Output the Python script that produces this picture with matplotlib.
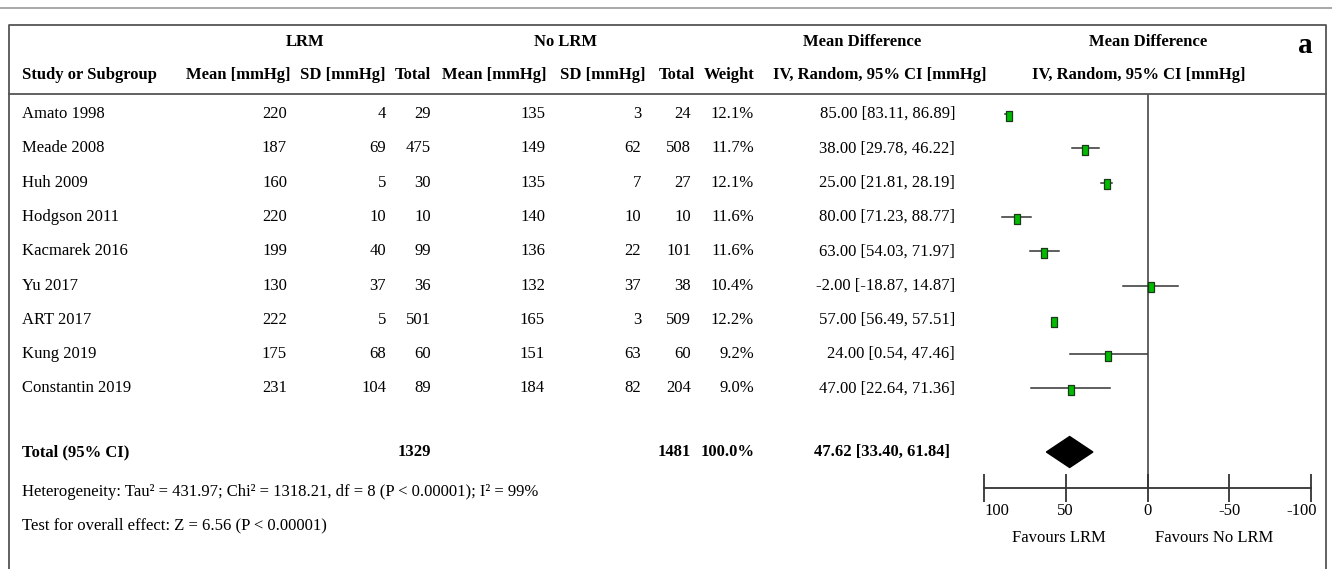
import matplotlib
matplotlib.use("Agg")
import matplotlib.pyplot as plt
from matplotlib.patches import Polygon
from matplotlib.path import Path
from matplotlib.transforms import ScaledTranslation

plt.rcParams['font.family'] = ['Liberation Serif', 'DejaVu Serif']

# ---------------- data ----------------
studies = ["Amato 1998", "Meade 2008", "Huh 2009", "Hodgson 2011", "Kacmarek 2016",
           "Yu 2017", "ART 2017", "Kung 2019", "Constantin 2019"]
lrm_mean = [220, 187, 160, 220, 199, 130, 222, 175, 231]
lrm_sd = [4, 69, 5, 10, 40, 37, 5, 68, 104]
lrm_n = [29, 475, 30, 10, 99, 36, 501, 60, 89]
ctl_mean = [135, 149, 135, 140, 136, 132, 165, 151, 184]
ctl_sd = [3, 62, 7, 10, 22, 37, 3, 63, 82]
ctl_n = [24, 508, 27, 10, 101, 38, 509, 60, 204]
weight = [12.1, 11.7, 12.1, 11.6, 11.6, 10.4, 12.2, 9.2, 9.0]
md = [85.00, 38.00, 25.00, 80.00, 63.00, -2.00, 57.00, 24.00, 47.00]
ci_lo = [83.11, 29.78, 21.81, 71.23, 54.03, -18.87, 56.49, 0.54, 22.64]
ci_hi = [86.89, 46.22, 28.19, 88.77, 71.97, 14.87, 57.51, 47.46, 71.36]
total_lrm_n = 1329
total_ctl_n = 1481
total_weight = 100.0
total_md = 47.62
total_lo = 33.40
total_hi = 61.84
x_ticks = [100, 50, 0, -50, -100]
heterogeneity = "Heterogeneity: Tau\u00b2 = 431.97; Chi\u00b2 = 1318.21, df = 8 (P < 0.00001); I\u00b2 = 99%"
overall = "Test for overall effect: Z = 6.56 (P < 0.00001)"

# ---------------- layout ----------------
W, H = 1332, 569
fig = plt.figure(figsize=(W / 100, H / 100), dpi=100)
bg = fig.add_axes([0, 0, 1, 1])
bg.set_xlim(0, W)
bg.set_ylim(H, 0)
bg.axis('off')

FS = 12
line_col = '#555555'

# frame
bg.plot([0, W], [8, 8], color='#999999', lw=1.2)
bg.plot([9, 9, W - 6, W - 6], [H + 5, 25, 25, H + 5], color=line_col, lw=1.3)
bg.plot([9, W - 6], [94, 94], color=line_col, lw=1.3)

# header
hy1, hy2 = 42, 75
bold = dict(fontsize=FS, fontweight='bold', va='center')
bg.text(305, hy1, "LRM", ha='center', **bold)
bg.text(566, hy1, "No LRM", ha='center', **bold)
bg.text(862, hy1, "Mean Difference", ha='center', **bold)
bg.text(1148, hy1, "Mean Difference", ha='center', **bold)
bg.text(1305, 45, "a", ha='center', fontsize=21, fontweight='bold', va='center')

bg.text(22, hy2, "Study or Subgroup", ha='left', **bold)
col_right = [290, 386, 431, 546, 646, 695, 755]
col_hdr = ["Mean [mmHg]", "SD [mmHg]", "Total", "Mean [mmHg]", "SD [mmHg]", "Total", "Weight"]
for xr, t in zip(col_right, col_hdr):
    bg.text(xr, hy2, t, ha='right', **bold)
bg.text(880, hy2, "IV, Random, 95% CI [mmHg]", ha='center', **bold)
bg.text(1139, hy2, "IV, Random, 95% CI [mmHg]", ha='center', **bold)

# rows
row0, step = 114, 34.3
num_right = [287, 386, 431, 545, 641, 691, 754]
ci_right = 955
norm = dict(fontsize=FS, va='center')
for i, s in enumerate(studies):
    y = row0 + i * step
    bg.text(22, y, s, ha='left', **norm)
    vals = [lrm_mean[i], lrm_sd[i], lrm_n[i], ctl_mean[i], ctl_sd[i], ctl_n[i]]
    for xr, v in zip(num_right[:6], vals):
        bg.text(xr, y, f"{v}", ha='right', **norm)
    bg.text(num_right[6], y, f"{weight[i]:.1f}%", ha='right', **norm)
    bg.text(ci_right, y, f"{md[i]:.2f} [{ci_lo[i]:.2f}, {ci_hi[i]:.2f}]", ha='right', **norm)

ty = 452
bg.text(22, ty, "Total (95% CI)", ha='left', **bold)
bg.text(num_right[2], ty, f"{total_lrm_n}", ha='right', **bold)
bg.text(num_right[5], ty, f"{total_ctl_n}", ha='right', **bold)
bg.text(num_right[6] + 1, ty, f"{total_weight:.1f}%", ha='right', **bold)
bg.text(950, ty, f"{total_md:.2f} [{total_lo:.2f}, {total_hi:.2f}]", ha='right', **bold)

bg.text(22, 492, heterogeneity, ha='left', **norm)
bg.text(22, 525, overall, ha='left', **norm)

# ---------------- forest plot ----------------
x0, x1 = 984, 1311
ytop, ybot = 94, 488
fa = fig.add_axes([x0 / W, 1 - ybot / H, (x1 - x0) / W, (ybot - ytop) / H])
fa.patch.set_alpha(0)
fa.set_xlim(100, -100)
y_top_r = (ytop - row0) / step
y_bot_r = (ybot - row0) / step
fa.set_ylim(y_bot_r, y_top_r)
for sp in ['top', 'left', 'right']:
    fa.spines[sp].set_visible(False)
fa.spines['bottom'].set_color('#333333')
fa.spines['bottom'].set_linewidth(1.3)
fa.set_yticks([])
fa.set_xticks(x_ticks)
fa.set_xticklabels([str(t) for t in x_ticks], fontsize=FS)
fa.tick_params(axis='x', direction='inout', length=20, width=1.3, color='#333333', pad=1)
labs = fa.get_xticklabels()
labs[0].set_ha('left')
labs[-1].set_transform(labs[-1].get_transform() + ScaledTranslation(-0.09, 0, fig.dpi_scale_trans))
fa.axvline(0, color=line_col, lw=1.3, zorder=1)

rect = Path([(-0.3, -0.5), (0.3, -0.5), (0.3, 0.5), (-0.3, 0.5), (-0.3, -0.5)],
            [Path.MOVETO, Path.LINETO, Path.LINETO, Path.LINETO, Path.CLOSEPOLY])
for i in range(len(studies)):
    fa.plot([ci_lo[i], ci_hi[i]], [i, i], color='#333333', lw=1.1, zorder=2)
    fa.plot([md[i]], [i + 0.05], marker=rect, markersize=7.5, color='#00bb00',
            markeredgecolor='#1a3a1a', markeredgewidth=0.9, zorder=3, linestyle='none')

ty_r = (ty - row0) / step
hh = 15.5 / step
dia = Polygon([(total_lo, ty_r), (total_md, ty_r - hh), (total_hi, ty_r), (total_md, ty_r + hh)],
              closed=True, facecolor='black', edgecolor='black', zorder=3)
fa.add_patch(dia)

bg.text(1059, 538, "Favours LRM", ha='center', **norm)
bg.text(1214, 538, "Favours No LRM", ha='center', **norm)

fig.savefig("out.png", dpi=100)
